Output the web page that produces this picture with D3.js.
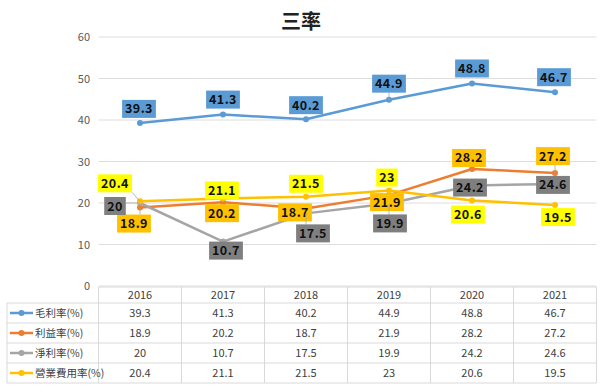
<!DOCTYPE html>
<html>
<head>
  <meta charset="utf-8">
  <title>三率</title>
  <script src="https://cdn.jsdelivr.net/npm/d3@7"></script>
  <style>
    body { margin: 0; background: #fff; }
    text { font-family: "Noto Sans CJK TC", "Noto Sans", sans-serif; }
  </style>
</head>
<body>
  <div id="chart"></div>
  <script>
    const years = ['2016', '2017', '2018', '2019', '2020', '2021'];
    const seriesNames = ['毛利率(%)', '利益率(%)', '淨利率(%)', '營業費用率(%)'];
    const grossMargin = [39.3, 41.3, 40.2, 44.9, 48.8, 46.7];
    const operatingMargin = [18.9, 20.2, 18.7, 21.9, 28.2, 27.2];
    const netMargin = [20, 10.7, 17.5, 19.9, 24.2, 24.6];
    const expenseRatio = [20.4, 21.1, 21.5, 23, 20.6, 19.5];
    const yTicks = [0, 10, 20, 30, 40, 50, 60];

    const seriesValues = [grossMargin, operatingMargin, netMargin, expenseRatio];
    const lineColors = ['#5b9bd5', '#ed7d31', '#a5a5a5', '#ffc000'];
    const labelFills = ['#5b9bd5', '#ffc000', '#7f7f7f', '#ffff00'];

    // where each data label sits relative to its point (dx, dy)
    const labelOffsets = [
      [[-1, -14], [0, -15], [0, -14], [0, -16], [0, -15], [-1, -15]],
      [[-6, 16], [-1, 11], [-11, 4], [-2, 7], [-3, -11], [-2, -17]],
      [[-25, 3], [3, 9], [7, 20], [1, 20], [-2, 2], [-2, 1]],
      [[-25, -18], [-1, -8], [0, -13], [-2, -13], [-4, 14], [3, 12]]
    ];

    const W = 602, H = 387;
    const svg = d3.select('#chart').append('svg')
      .attr('width', W)
      .attr('height', H);

    svg.append('text')
      .attr('x', 301)
      .attr('y', 29)
      .attr('text-anchor', 'middle')
      .attr('font-size', 20)
      .attr('font-weight', 'bold')
      .attr('fill', '#222')
      .text('三率');

    const x = d3.scaleBand()
      .domain(years)
      .range([98.5, 596.5]);

    const y = d3.scaleLinear()
      .domain([0, 60])
      .range([286, 37]);

    // gridlines
    svg.selectAll('.grid')
      .data(yTicks)
      .enter()
      .append('line')
      .attr('x1', 98.5)
      .attr('x2', 596.5)
      .attr('y1', d => y(d))
      .attr('y2', d => y(d))
      .attr('stroke', '#dedede')
      .attr('stroke-width', 1);

    const yAxis = svg.append('g')
      .attr('transform', 'translate(90,0)')
      .call(d3.axisLeft(y).tickValues(yTicks).tickSize(0).tickPadding(0));
    yAxis.select('.domain').remove();
    yAxis.selectAll('text')
      .attr('font-size', 11)
      .attr('fill', '#595959')
      .attr('font-family', '"Liberation Sans", sans-serif');

    // lines
    const line = d3.line()
      .x((d, i) => x(years[i]) + x.bandwidth() / 2)
      .y(d => y(d));

    seriesValues.forEach((vals, s) => {
      svg.append('path')
        .datum(vals)
        .attr('d', line)
        .attr('fill', 'none')
        .attr('stroke', lineColors[s])
        .attr('stroke-width', 2.5)
        .attr('stroke-linejoin', 'round');
      svg.selectAll('.dot' + s)
        .data(vals)
        .enter()
        .append('circle')
        .attr('cx', (d, i) => x(years[i]) + x.bandwidth() / 2)
        .attr('cy', d => y(d))
        .attr('r', 3)
        .attr('fill', lineColors[s]);
    });

    // data labels
    seriesValues.forEach((vals, s) => {
      vals.forEach((v, i) => {
        const px = x(years[i]) + x.bandwidth() / 2;
        const py = y(v);
        const lx = px + labelOffsets[s][i][0];
        const ly = py + labelOffsets[s][i][1];
        const g = svg.append('g');
        const t = g.append('text')
          .attr('x', lx)
          .attr('y', ly + 4.5)
          .attr('text-anchor', 'middle')
          .attr('font-size', 12.5)
          .attr('font-weight', 'bold')
          .attr('letter-spacing', 0.4)
          .attr('font-family', '"DejaVu Sans", sans-serif')
          .attr('fill', '#111')
          .text(v);
        const bb = t.node().getBBox();
        const bw = bb.width + 6, bh = 18;
        // leader line when label is far from point
        const ex = Math.max(lx - bw / 2, Math.min(px, lx + bw / 2));
        const ey = Math.max(ly - bh / 2, Math.min(py, ly + bh / 2));
        if (Math.hypot(px - ex, py - ey) > 6) {
          g.insert('line', 'text')
            .attr('x1', ex).attr('y1', ey)
            .attr('x2', px).attr('y2', py)
            .attr('stroke', '#a6a6a6')
            .attr('stroke-width', 0.8);
        }
        g.insert('rect', 'text')
          .attr('x', lx - bw / 2)
          .attr('y', ly - bh / 2)
          .attr('width', bw)
          .attr('height', bh)
          .attr('fill', labelFills[s]);
      });
    });

    // data table
    const tableTop = 287, headH = 16, rowH = 20, leftX = 7;
    const tableBottom = tableTop + headH + rowH * seriesNames.length;
    const grid = '#d9d9d9';

    // vertical lines
    const vx = [x.range()[0]].concat(years.map(yr => x(yr) + x.bandwidth()));
    svg.selectAll('.vline')
      .data(vx)
      .enter()
      .append('line')
      .attr('x1', d => d).attr('x2', d => d)
      .attr('y1', tableTop).attr('y2', tableBottom)
      .attr('stroke', grid);
    svg.append('line')
      .attr('x1', leftX).attr('x2', leftX)
      .attr('y1', tableTop + headH).attr('y2', tableBottom)
      .attr('stroke', grid);

    // horizontal lines
    svg.append('line')
      .attr('x1', x.range()[0]).attr('x2', x.range()[1])
      .attr('y1', tableTop).attr('y2', tableTop)
      .attr('stroke', grid);
    d3.range(seriesNames.length + 1).forEach(r => {
      const yy = tableTop + headH + r * rowH;
      svg.append('line')
        .attr('x1', leftX).attr('x2', x.range()[1])
        .attr('y1', yy).attr('y2', yy)
        .attr('stroke', grid);
    });

    svg.selectAll('.year')
      .data(years)
      .enter()
      .append('text')
      .attr('x', d => x(d) + x.bandwidth() / 2)
      .attr('y', tableTop + headH / 2 + 4)
      .attr('text-anchor', 'middle')
      .attr('font-size', 11)
      .attr('fill', '#404040')
      .attr('font-family', '"Liberation Sans", sans-serif')
      .text(d => d);

    seriesNames.forEach((name, s) => {
      const cy = tableTop + headH + s * rowH + rowH / 2;
      svg.append('line')
        .attr('x1', 10).attr('x2', 33)
        .attr('y1', cy).attr('y2', cy)
        .attr('stroke', lineColors[s])
        .attr('stroke-width', 2.5);
      svg.append('circle')
        .attr('cx', 21.5).attr('cy', cy).attr('r', 3)
        .attr('fill', lineColors[s]);
      svg.append('text')
        .attr('x', 35)
        .attr('y', cy + 4)
        .attr('font-size', 10.5)
        .attr('fill', '#404040')
        .text(name);
      svg.selectAll('.val' + s)
        .data(seriesValues[s])
        .enter()
        .append('text')
        .attr('x', (d, i) => x(years[i]) + x.bandwidth() / 2)
        .attr('y', cy + 4)
        .attr('text-anchor', 'middle')
        .attr('font-size', 11)
        .attr('fill', '#404040')
        .attr('font-family', '"Liberation Sans", sans-serif')
        .text(d => d);
    });
  </script>
</body>
</html>
